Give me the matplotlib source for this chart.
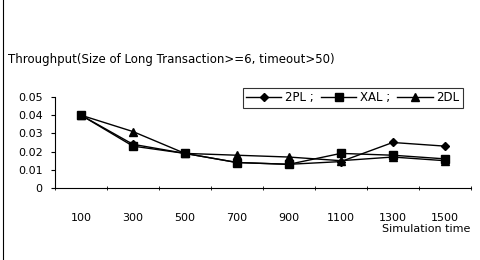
import matplotlib
matplotlib.use("Agg")
import matplotlib.pyplot as plt
from matplotlib.lines import Line2D

categories = ["100", "300", "500", "700", "900", "1100", "1300", "1500"]
pl2 = [0.040, 0.024, 0.019, 0.014, 0.013, 0.0145, 0.025, 0.023]
xal = [0.040, 0.023, 0.019, 0.014, 0.013, 0.019, 0.018, 0.016]
dl2 = [0.040, 0.031, 0.019, 0.018, 0.017, 0.015, 0.017, 0.015]
yticks = [0, 0.01, 0.02, 0.03, 0.04, 0.05]
ytick_labels = ["0", "0.01", "0.02", "0.03", "0.04", "0.05"]

fig = plt.figure(figsize=(4.8, 2.6), dpi=100)
ax = fig.add_axes([0.1146, 0.277, 0.866, 0.350])
x = list(range(len(categories)))
ax.plot(x, pl2, color="black", marker="D", markersize=4.5, lw=1.0, label="2PL ;")
ax.plot(x, xal, color="black", marker="s", markersize=6, lw=1.0, label="XAL ;")
ax.plot(x, dl2, color="black", marker="^", markersize=6, lw=1.0, label="2DL")

ax.set_xlim(-0.5, len(categories) - 0.5)
ax.set_ylim(0, 0.05)
ax.set_yticks(yticks)
ax.set_yticklabels(ytick_labels, fontsize=8)
ax.set_xticks(x)
ax.set_xticklabels(categories, fontsize=8)
ax.tick_params(axis="x", length=0, pad=18)
ax.tick_params(axis="y", length=3, direction="out", pad=6)
ax.set_xticks([i - 0.5 for i in range(len(categories) + 1)], minor=True)
ax.tick_params(axis="x", which="minor", length=3, direction="inout")
for s in ["top", "right"]:
    ax.spines[s].set_visible(False)
ax.spines["left"].set_linewidth(0.8)
ax.spines["bottom"].set_linewidth(0.8)

leg = ax.legend(loc="upper right", bbox_to_anchor=(0.981, 1.10), ncol=3, fontsize=8.5,
                frameon=True, fancybox=False, edgecolor="black", handlelength=3.0,
                columnspacing=0.6, handletextpad=0.3, borderpad=0.3, borderaxespad=0)
leg.get_frame().set_linewidth(0.8)

fig.text(0.017, 0.77, "Throughput(Size of Long Transaction>=6, timeout>50)", fontsize=8.5, ha="left", va="center")
fig.text(0.98, 0.12, "Simulation time", fontsize=8, ha="right", va="center")
fig.add_artist(Line2D([0.007, 0.007], [0.0, 1.0], color="black", lw=0.8, transform=fig.transFigure))

fig.savefig("out.png", dpi=100)
